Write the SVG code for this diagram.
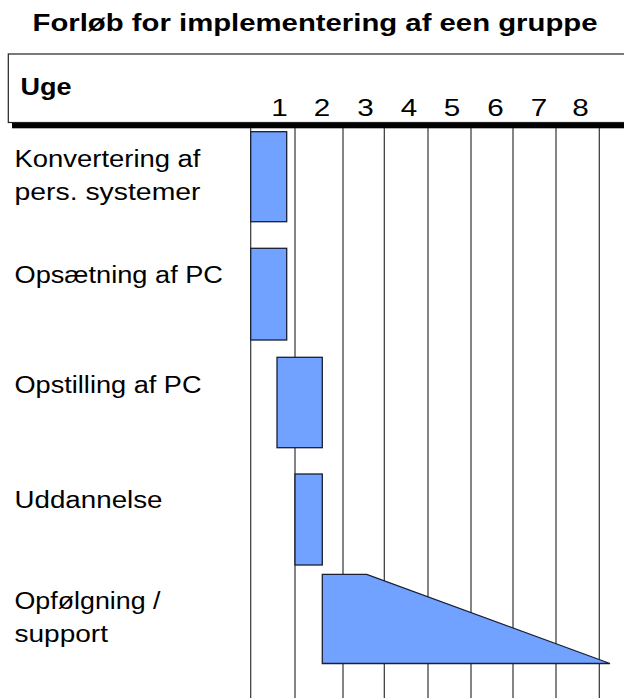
<svg xmlns="http://www.w3.org/2000/svg" width="624" height="698" viewBox="0 0 624 698">
<style>
.t{font-family:"Liberation Sans",Arial,sans-serif;fill:#000}
.b{font-weight:bold}
.lbl{font-size:23px}
.num{font-size:24.7px;text-anchor:middle}
.bar{fill:#72A2FF;stroke:#1a1f33;stroke-width:1.3}
.grid line{stroke:#333;stroke-width:1.2}
</style>
<rect width="624" height="698" fill="#fff"/>
<text class="t b" x="32.5" y="31" font-size="24.3" textLength="565" lengthAdjust="spacingAndGlyphs">Forløb for implementering af een gruppe</text>
<g id="header">
<rect x="12" y="60" width="620" height="68.3" fill="#000"/>
<rect x="8.3" y="54" width="620" height="68.5" fill="#fff" stroke="#222" stroke-width="1.2"/>
<text class="t b" x="20.5" y="95" font-size="24.6" textLength="51" lengthAdjust="spacingAndGlyphs">Uge</text>
<g class="t num">
<text x="279.5" y="116" textLength="16.5" lengthAdjust="spacingAndGlyphs">1</text>
<text x="322" y="116" textLength="16.5" lengthAdjust="spacingAndGlyphs">2</text>
<text x="365.5" y="116" textLength="16.5" lengthAdjust="spacingAndGlyphs">3</text>
<text x="409" y="116" textLength="16.5" lengthAdjust="spacingAndGlyphs">4</text>
<text x="452" y="116" textLength="16.5" lengthAdjust="spacingAndGlyphs">5</text>
<text x="495.5" y="116" textLength="16.5" lengthAdjust="spacingAndGlyphs">6</text>
<text x="539" y="116" textLength="16.5" lengthAdjust="spacingAndGlyphs">7</text>
<text x="580.5" y="116" textLength="16.5" lengthAdjust="spacingAndGlyphs">8</text>
</g>
</g>
<g id="grid" class="grid">
<line x1="250.7" y1="128" x2="250.7" y2="698"/>
<line x1="295" y1="128" x2="295" y2="698"/>
<line x1="343" y1="128" x2="343" y2="698"/>
<line x1="384.3" y1="128" x2="384.3" y2="698"/>
<line x1="428" y1="128" x2="428" y2="698"/>
<line x1="471" y1="128" x2="471" y2="698"/>
<line x1="513" y1="128" x2="513" y2="698"/>
<line x1="556" y1="128" x2="556" y2="698"/>
<line x1="599.3" y1="128" x2="599.3" y2="698"/>
</g>
<g id="task1">
<text class="t lbl" x="14.5" y="166.7" textLength="186" lengthAdjust="spacingAndGlyphs">Konvertering af</text>
<text class="t lbl" x="14.5" y="200" textLength="186" lengthAdjust="spacingAndGlyphs">pers.  systemer</text>
<rect class="bar" x="250.7" y="131.7" width="36" height="90"/>
</g>
<g id="task2">
<text class="t lbl" x="14.5" y="283.3" textLength="208.5" lengthAdjust="spacingAndGlyphs">Opsætning af PC</text>
<rect class="bar" x="250.7" y="248.3" width="36" height="91.7"/>
</g>
<g id="task3">
<text class="t lbl" x="14.5" y="392.7" textLength="187" lengthAdjust="spacingAndGlyphs">Opstilling af PC</text>
<rect class="bar" x="277" y="357.3" width="45.3" height="90.4"/>
</g>
<g id="task4">
<text class="t lbl" x="14.5" y="508.3" textLength="148" lengthAdjust="spacingAndGlyphs">Uddannelse</text>
<rect class="bar" x="295" y="474" width="27.3" height="91"/>
</g>
<g id="task5">
<text class="t lbl" x="14.5" y="609.3" textLength="146" lengthAdjust="spacingAndGlyphs">Opfølgning /</text>
<text class="t lbl" x="14.5" y="641.7" textLength="93.5" lengthAdjust="spacingAndGlyphs">support</text>
<polygon class="bar" points="322.3,574.3 366.7,574.3 610,663.5 322.3,663.5"/>
</g>
</svg>
